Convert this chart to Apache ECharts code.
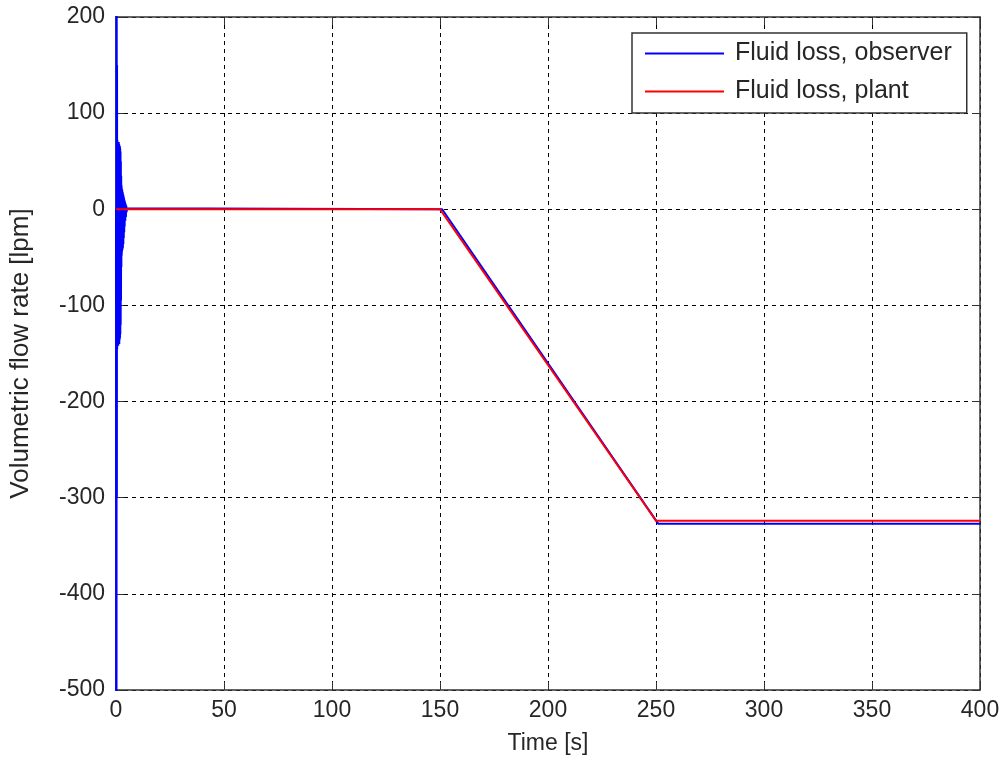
<!DOCTYPE html>
<html>
<head>
<meta charset="utf-8">
<title>Fluid loss</title>
<script src="https://cdn.jsdelivr.net/npm/echarts@6/dist/echarts.min.js"></script>
<style>
  html, body { margin: 0; padding: 0; background: #fff; }
  #chart { width: 1003px; height: 763px; }
</style>
</head>
<body>
<div id="chart"></div>
<script>
// Observer estimate: start-up transient, then tracks the plant ramp with a small lag
const observerTime = [
  0, 0.08, 0.16, 0.24, 0.32, 0.40, 0.48, 0.56, 0.64, 0.72, 0.80, 0.88,
  0.96, 1.04, 1.12, 1.20, 1.28, 1.36, 1.44, 1.52, 1.60, 1.68, 1.76, 1.84,
  1.92, 2.00, 2.08, 2.16, 2.24, 2.32, 2.40, 2.48, 2.56, 2.64, 2.72, 2.80,
  2.90, 3.00, 3.10, 3.20, 3.30, 3.40, 3.50, 3.60, 3.70, 3.80, 3.90, 4.00,
  4.15, 4.30, 4.45, 4.60, 4.75, 4.90, 5.10, 5.30, 151, 251, 400
];
const observerFlow = [
  0, -560, 260, -520, 230, -300, 150, -145, 72, -142, 70, -140,
  70, -142, 68, -140, 70, -138, 68, -140, 66, -136, 66, -134,
  64, -130, 60, -120, 50, -95, 35, -60, 25, -48, 22, -44,
  20, -42, 18, -40, 16, -36, 14, -30, 12, -24, 10, -18,
  8, -12, 6, -8, 4, -3, 1, 0, 0, -327, -327
];

// Plant fluid loss
const plantTime = [0, 150, 250, 400];
const plantFlow = [0, 0, -324, -324];

const seriesNames = ['Fluid loss, observer', 'Fluid loss, plant'];
const xTicks = { min: 0, max: 400, step: 50 };
const yTicks = { min: -500, max: 200, step: 100 };

const pairs = (xs, ys) => xs.map((x, i) => [x, ys[i]]);

const font = '"Liberation Sans", Arial, sans-serif';
const ink = '#262626';

const chart = echarts.init(document.getElementById('chart'), null, { renderer: 'canvas' });

const gridLine = { show: true, lineStyle: { color: '#000', type: [4, 4], width: 1 } };
const frameLine = { show: true, onZero: false, lineStyle: { color: '#333', width: 1.5 } };
const inTick = { show: true, inside: true, length: 8, lineStyle: { color: '#333', width: 1 } };

chart.setOption({
  animation: false,
  backgroundColor: '#fff',
  grid: { left: 114, right: 23, top: 17, bottom: 73, containLabel: false },
  legend: {
    left: 632, top: 33,
    orient: 'vertical',
    data: seriesNames,
    icon: 'rect',
    itemWidth: 79, itemHeight: 2,
    itemGap: 13,
    padding: [8, 15, 9, 13],
    backgroundColor: '#fff',
    borderColor: '#333', borderWidth: 1.5, borderRadius: 0,
    textStyle: { fontFamily: font, fontSize: 25, color: ink, lineHeight: 25, padding: [0, 0, 0, 6] }
  },
  xAxis: [{
    type: 'value', position: 'bottom',
    min: xTicks.min, max: xTicks.max, interval: xTicks.step,
    name: 'Time [s]', nameLocation: 'middle', nameGap: 42,
    nameTextStyle: { fontFamily: font, fontSize: 23, color: ink },
    axisLine: frameLine, axisTick: inTick, splitLine: gridLine,
    axisLabel: { fontFamily: font, fontSize: 23, color: ink, margin: 9 }
  }, {
    type: 'value', position: 'top',
    min: xTicks.min, max: xTicks.max, interval: xTicks.step,
    axisLine: frameLine, axisTick: inTick, splitLine: { show: false },
    axisLabel: { show: false }
  }],
  yAxis: [{
    type: 'value', position: 'left',
    min: yTicks.min, max: yTicks.max, interval: yTicks.step,
    name: 'Volumetric flow rate [lpm]', nameLocation: 'middle', nameGap: 82,
    nameTextStyle: { fontFamily: font, fontSize: 26, color: ink },
    axisLine: frameLine, axisTick: inTick, splitLine: gridLine,
    axisLabel: { fontFamily: font, fontSize: 23, color: ink, margin: 11 }
  }, {
    type: 'value', position: 'right',
    min: yTicks.min, max: yTicks.max, interval: yTicks.step,
    axisLine: frameLine, axisTick: inTick, splitLine: { show: false },
    axisLabel: { show: false }
  }],
  series: [{
    name: seriesNames[0], type: 'line',
    data: pairs(observerTime, observerFlow),
    showSymbol: false, symbol: 'none',
    clip: true,
    lineStyle: { color: '#0000ff', width: 2 },
    itemStyle: { color: '#0000ff' }
  }, {
    name: seriesNames[1], type: 'line',
    data: pairs(plantTime, plantFlow),
    showSymbol: false, symbol: 'none',
    clip: true,
    lineStyle: { color: '#ff0000', width: 2 },
    itemStyle: { color: '#ff0000' }
  }]
});
</script>
</body>
</html>
